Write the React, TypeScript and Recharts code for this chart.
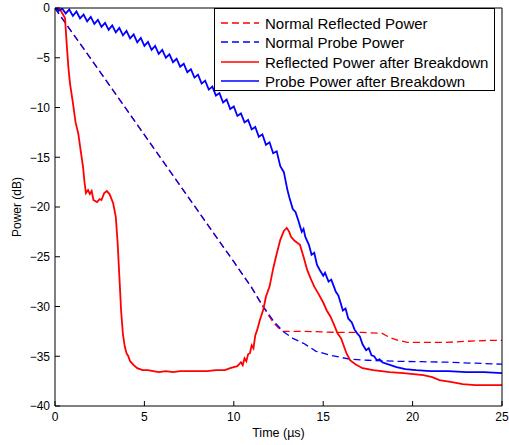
import { LineChart, Line, XAxis, YAxis } from "recharts";

// Normal Reflected Power (red dashed)
const normReflT = [0, 0.5, 2, 4, 6, 8, 10, 11, 11.6, 12.2, 12.7, 14, 15.8, 17.2, 18.3, 18.7, 19.2, 19.7, 21, 21.9, 23, 24.3, 25];
const normReflV = [0, -1.3, -5.1, -10.2, -15.3, -20.4, -25.5, -28.1, -29.9, -31.6, -32.5, -32.5, -32.6, -32.6, -32.7, -33.1, -33.4, -33.6, -33.6, -33.6, -33.5, -33.4, -33.4];

// Normal Probe Power (blue dashed)
const normProbeT = [0, 0.5, 2, 4, 6, 8, 10, 11, 11.6, 12.2, 12.75, 13.3, 13.9, 14.6, 15.4, 16.5, 17.5, 18.9, 20.5, 22, 23.5, 25];
const normProbeV = [0, -1.3, -5.1, -10.2, -15.3, -20.4, -25.5, -28.1, -29.9, -31.4, -32.5, -33.2, -33.7, -34.5, -34.9, -35.3, -35.4, -35.5, -35.55, -35.6, -35.7, -35.8];

// Reflected Power after Breakdown (red solid)
const brkReflT = [0, 0.3, 0.56, 0.65, 0.75, 0.84, 1.0, 1.15, 1.3, 1.45, 1.57, 1.65, 1.73, 1.85, 1.95, 2.05, 2.15, 2.35, 2.5, 2.6, 2.75, 2.9, 3.05, 3.25, 3.4, 3.5, 3.6, 3.7, 3.8, 3.9, 4.0, 4.1, 4.2, 4.4, 4.6, 4.9, 5.2, 5.5, 5.8, 6.2, 6.6, 7, 7.5, 8, 8.5, 9, 9.5, 9.8, 10.0, 10.2, 10.4, 10.5, 10.6, 10.7, 10.8, 10.9, 11.0, 11.1, 11.2, 11.3, 11.45, 11.65, 11.8, 12.0, 12.2, 12.4, 12.6, 12.8, 12.96, 13.1, 13.2, 13.4, 13.7, 13.9, 14.1, 14.3, 14.5, 14.7, 15.0, 15.2, 15.4, 15.6, 15.8, 16.0, 16.1, 16.3, 16.5, 16.8, 17.2, 17.8, 18.7, 19.5, 20.6, 21.1, 21.5, 22.2, 22.8, 23.5, 25];
const brkReflV = [0, -0.2, -1.0, -3.5, -6, -7.6, -9.5, -11.5, -12.6, -14.5, -16, -17.5, -18.6, -18.3, -18.7, -18.4, -19.3, -19.5, -19.2, -19.3, -18.6, -18.4, -18.7, -19.6, -21, -23.5, -27, -30.5, -32.8, -34, -34.7, -35, -35.5, -35.9, -36.2, -36.4, -36.4, -36.5, -36.6, -36.5, -36.6, -36.5, -36.5, -36.5, -36.5, -36.4, -36.4, -36.2, -36.1, -36.0, -35.6, -35.9, -35.2, -35.5, -34.8, -34.7, -33.9, -34.2, -32.9, -32.4, -31.4, -30.3, -29, -28, -26.2, -24.7, -23.3, -22.4, -22.1, -22.5, -23, -23.4, -23.8, -25, -26.3, -27.2, -28, -28.6, -29.6, -30.4, -31, -31.8, -32.7, -33.2, -33.7, -34.7, -35.4, -35.8, -36.2, -36.4, -36.6, -36.7, -36.9, -37.1, -37.4, -37.6, -37.8, -37.9, -37.9];

// Probe Power after Breakdown (blue solid)
const brkProbeT = [0, 0.2, 0.4, 0.6, 0.8, 1.0, 1.2, 1.4, 1.6, 1.8, 2.0, 2.2, 2.4, 2.6, 2.8, 3.0, 3.2, 3.4, 3.6, 3.8, 4.0, 4.2, 4.4, 4.6, 4.8, 5.0, 5.2, 5.4, 5.6, 5.8, 6.0, 6.2, 6.4, 6.6, 6.8, 7.0, 7.2, 7.4, 7.6, 7.8, 8.0, 8.2, 8.4, 8.6, 8.8, 9.0, 9.2, 9.4, 9.6, 9.8, 10.0, 10.2, 10.4, 10.6, 10.8, 11.0, 11.2, 11.4, 11.6, 11.8, 12.0, 12.2, 12.4, 12.6, 12.8, 13.0, 13.1, 13.3, 13.45, 13.6, 13.8, 13.9, 14.0, 14.2, 14.35, 14.5, 14.65, 14.8, 15.0, 15.1, 15.3, 15.45, 15.6, 15.7, 15.85, 16.0, 16.1, 16.25, 16.4, 16.6, 16.75, 16.9, 17.05, 17.2, 17.4, 17.55, 17.7, 17.85, 18.0, 18.15, 18.3, 18.6, 19.1, 19.6, 20.2, 21, 22, 23, 24, 25];
const brkProbeV = [0, -0.3, -0.05, -0.55, -0.15, -0.8, -0.35, -1.05, -0.65, -1.35, -0.9, -1.6, -1.2, -1.9, -1.5, -2.2, -1.75, -2.45, -2.0, -2.75, -2.3, -3.05, -2.65, -3.45, -3.0, -3.8, -3.4, -4.2, -3.8, -4.6, -4.2, -5.0, -4.65, -5.45, -5.1, -5.9, -5.6, -6.45, -6.15, -7.0, -6.7, -7.6, -7.3, -8.2, -7.9, -8.8, -8.55, -9.5, -9.2, -10.15, -9.9, -10.85, -10.6, -11.5, -11.25, -12.2, -11.95, -12.95, -12.7, -13.75, -13.5, -14.6, -14.4, -15.9, -16.5, -18.3, -19, -20.2, -20.5, -21.3, -22.5, -22.2, -23, -23.8, -24.8, -24.6, -25.8, -26.3, -26.9, -26.6, -27.5, -27.3, -28, -28.5, -28.9, -29.8, -30.4, -30.2, -31.2, -31.6, -32.3, -32.7, -33.0, -33.8, -34.4, -34.2, -34.9, -35.0, -35.4, -35.3, -35.6, -35.8, -36.1, -36.3, -36.4, -36.5, -36.5, -36.6, -36.6, -36.7];

const xTicks = [0, 5, 10, 15, 20, 25];
const yTicks = [-40, -35, -30, -25, -20, -15, -10, -5, 0];

const legendItems = [
  { name: "Normal Reflected Power", color: "#ff0000", dashed: true },
  { name: "Normal Probe Power", color: "#0000ff", dashed: true },
  { name: "Reflected Power after Breakdown", color: "#ff0000", dashed: false },
  { name: "Probe Power after Breakdown", color: "#0000ff", dashed: false },
];

const zip = (t: number[], v: number[]) => t.map((x, i) => ({ t: x, v: v[i] }));

const fmt = (n: number) => String(n).replace("-", "\u2212");
const tickStyle = { fontSize: 12, fill: "#000" };

export default function App() {
  return (
    <div
      style={{
        position: "absolute",
        left: 0,
        top: 0,
        width: 509,
        height: 445,
        background: "#fff",
        fontFamily: "'Liberation Sans', Arial, sans-serif",
      }}
    >
      <LineChart width={509} height={445} margin={{ top: 0, right: 0, bottom: 0, left: 0 }}>
        <XAxis
          xAxisId="bottom"
          dataKey="t"
          type="number"
          domain={[0, 25]}
          ticks={xTicks}
          height={39}
          stroke="#000"
          tick={tickStyle}
          tickSize={-5}
          tickMargin={11}
          allowDataOverflow
          label={{
            content: () => (
              <text x={278.5} y={437} textAnchor="middle" fontSize={12.5} fill="#000">
                Time (µs)
              </text>
            ),
          }}
        />
        <XAxis
          xAxisId="top"
          orientation="top"
          type="number"
          domain={[0, 25]}
          ticks={xTicks}
          height={8}
          stroke="#000"
          tick={false}
          tickSize={-5}
          allowDataOverflow
        />
        <YAxis
          yAxisId="left"
          type="number"
          domain={[-40, 0]}
          ticks={yTicks}
          width={55}
          stroke="#000"
          tick={tickStyle}
          tickSize={-5}
          tickMargin={10}
          tickFormatter={fmt}
          allowDataOverflow
          label={{
            content: () => (
              <text
                x={17}
                y={207}
                transform="rotate(-90 17 207)"
                textAnchor="middle"
                dominantBaseline="central"
                fontSize={12}
                fill="#000"
              >
                Power (dB)
              </text>
            ),
          }}
        />
        <YAxis
          yAxisId="right"
          orientation="right"
          type="number"
          domain={[-40, 0]}
          ticks={yTicks}
          width={7}
          stroke="#000"
          tick={false}
          tickSize={-5}
          allowDataOverflow
        />
        <Line
          xAxisId="bottom"
          yAxisId="left"
          data={zip(normReflT, normReflV)}
          dataKey="v"
          type="linear"
          stroke="#ff0000"
          strokeWidth={1.3}
          strokeDasharray="7 4"
          dot={false}
          activeDot={false}
          isAnimationActive={false}
        />
        <Line
          xAxisId="bottom"
          yAxisId="left"
          data={zip(normProbeT, normProbeV)}
          dataKey="v"
          type="linear"
          stroke="#0000ff"
          strokeWidth={1.3}
          strokeDasharray="7 4"
          dot={false}
          activeDot={false}
          isAnimationActive={false}
        />
        <Line
          xAxisId="bottom"
          yAxisId="left"
          data={zip(brkReflT, brkReflV)}
          dataKey="v"
          type="linear"
          stroke="#ff0000"
          strokeWidth={1.8}
          dot={false}
          activeDot={false}
          isAnimationActive={false}
        />
        <Line
          xAxisId="bottom"
          yAxisId="left"
          data={zip(brkProbeT, brkProbeV)}
          dataKey="v"
          type="linear"
          stroke="#0000ff"
          strokeWidth={1.8}
          dot={false}
          activeDot={false}
          isAnimationActive={false}
        />
      </LineChart>
      <div
        style={{
          position: "absolute",
          left: 214,
          top: 8,
          width: 281,
          height: 83,
          border: "1px solid #000",
          boxSizing: "border-box",
          background: "#fff",
        }}
      >
        {legendItems.map((item, i) => (
          <div
            key={item.name}
            style={{
              position: "absolute",
              left: 6,
              top: [4, 23, 43, 62][i],
              height: 20,
              display: "flex",
              alignItems: "center",
              whiteSpace: "nowrap",
            }}
          >
            <svg width={38} height={20} style={{ display: "block" }}>
              <line
                x1={0}
                y1={10}
                x2={38}
                y2={10}
                stroke={item.color}
                strokeWidth={1.3}
                strokeDasharray={item.dashed ? "7 4" : undefined}
              />
            </svg>
            <span style={{ marginLeft: 6, fontSize: 15, color: "#000" }}>{item.name}</span>
          </div>
        ))}
      </div>
    </div>
  );
}
